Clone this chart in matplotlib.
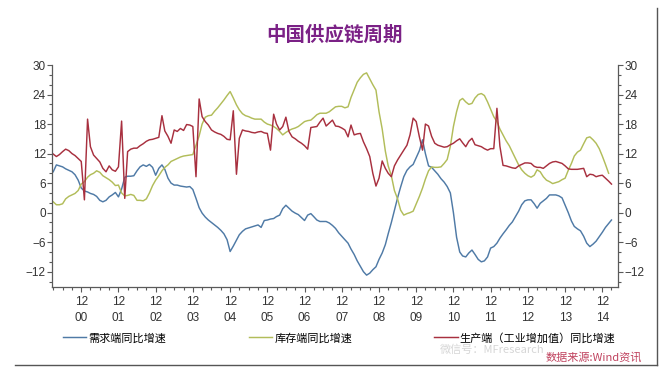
import pandas as pd
import matplotlib
matplotlib.use("Agg")
import matplotlib.pyplot as plt
import matplotlib.dates as mdates
from matplotlib.ticker import MultipleLocator
from matplotlib.lines import Line2D

plt.rcParams['font.family'] = ['Noto Sans CJK SC', 'DejaVu Sans']

# monthly, starting March 2000
months = pd.date_range("2000-03-01", periods=181, freq="MS")

# 需求端同比增速
demand = [
    8.3, 9.7, 9.5, 9.3, 8.9, 8.6, 8.3, 7.7, 6.6, 5.0,
    4.4, 4.2, 3.9, 3.7, 3.3, 2.5, 2.2, 2.5, 3.2, 3.6,
    4.1, 3.2, 4.8, 7.2, 7.4, 7.4, 7.5, 8.5, 9.3, 9.7,
    9.4, 9.8, 9.2, 7.6, 9.0, 9.7, 8.8, 7.0, 6.0, 5.6,
    5.6, 5.4, 5.3, 5.2, 5.3, 4.7, 2.9, 1.0, -0.1, -0.9,
    -1.5, -2.0, -2.5, -3.0, -3.6, -4.3, -5.5, -7.9, -6.8, -5.6,
    -4.5, -3.8, -3.3, -3.1, -2.9, -2.7, -2.5, -3.0, -1.6, -1.5,
    -1.3, -1.2, -0.8, -0.5, 0.8, 1.5, 0.9, 0.3, -0.1, -0.4,
    -1.0, -1.6, -0.5, -0.2, -0.8, -1.5, -1.8, -1.8, -1.8, -2.1,
    -2.6, -3.2, -4.1, -4.8, -5.5, -6.2, -7.4, -8.5, -9.8, -10.9,
    -12.0, -12.7, -12.3, -11.6, -11.0, -9.5, -8.2, -6.5, -4.3, -2.0,
    0.5, 3.0, 5.2, 7.3, 8.6, 9.3, 9.8, 11.2, 12.6, 14.8,
    12.0, 9.5, 9.2, 8.5, 7.8, 6.9, 6.2, 5.3, 4.0, 0.0,
    -5.0, -8.0, -8.8, -9.0, -8.2, -7.6, -8.5, -9.5, -10.0, -9.8,
    -9.0, -7.2, -6.9, -6.2, -5.2, -4.3, -3.5, -2.6, -1.9, -0.8,
    0.3, 1.6, 2.4, 2.6, 2.6, 1.8, 0.9, 1.9, 2.4, 2.9,
    3.6, 3.6, 3.6, 3.4, 3.0, 1.5, 0.0, -1.7, -2.8, -3.3,
    -3.7, -4.8, -6.2, -6.9, -6.4, -5.8, -4.9, -4.0, -3.0, -2.2,
    -1.5,
]

# 库存端同比增速
inventory = [
    2.2, 1.6, 1.6, 1.8, 2.8, 3.3, 3.6, 3.9, 4.5, 5.8,
    6.3, 7.2, 7.7, 8.0, 8.5, 8.2, 7.5, 7.1, 6.7, 6.2,
    5.5, 5.6, 4.0, 3.4, 3.5, 3.7, 3.5, 2.5, 2.5, 2.4,
    2.8, 4.0, 5.5, 6.6, 7.5, 8.5, 9.2, 9.7, 10.4, 10.7,
    11.0, 11.3, 11.5, 11.6, 11.7, 11.8, 13.7, 15.6, 18.0, 19.4,
    19.7, 19.8, 20.6, 21.3, 22.1, 22.9, 23.8, 24.6, 23.3, 21.9,
    20.9, 20.1, 19.7, 19.5, 19.2, 19.0, 19.0, 19.0, 18.4, 18.0,
    17.8, 17.5, 17.1, 16.5, 15.8, 16.3, 16.7, 17.0, 17.2, 17.5,
    18.0, 18.5, 18.7, 18.8, 19.3, 19.9, 20.2, 20.2, 20.2, 20.5,
    21.0, 21.5, 21.6, 21.6, 21.3, 21.5, 23.4, 25.0, 26.5, 27.4,
    28.1, 28.4, 27.2, 26.0, 24.9, 20.5, 17.0, 12.5, 9.5, 7.5,
    4.5, 2.8, 0.5, -0.5, -0.2, 0.0, 0.3, 1.8, 3.3, 5.0,
    6.8, 8.5, 9.3, 9.2, 9.2, 9.3, 10.0, 10.8, 13.5, 17.5,
    20.5, 22.8, 23.2, 22.5, 22.0, 22.2, 23.3, 24.0, 24.2, 23.8,
    22.5, 21.0, 19.5, 18.5, 17.0, 15.8, 14.6, 13.6, 12.3, 11.0,
    9.7, 8.7, 8.0, 7.5, 7.2, 7.6, 8.7, 8.3, 7.3, 6.6,
    6.3, 5.9, 6.1, 6.3, 6.7, 7.0, 8.6, 10.0, 11.5, 12.3,
    12.7, 14.0, 15.2, 15.4, 14.8, 14.1, 13.0, 11.5, 9.8, 8.0,
]

# 生产端（工业增加值）同比增速
production = [
    11.9, 11.4, 11.8, 12.4, 12.9, 12.6, 12.0, 11.6, 11.0, 10.4,
    2.6, 19.0, 13.4, 11.7, 11.0, 10.3, 9.0, 8.3, 9.5, 8.7,
    8.4, 9.3, 18.6, 2.9, 12.4, 12.9, 13.1, 13.1, 13.6, 14.0,
    14.5, 14.8, 14.9, 15.1, 15.3, 19.7, 16.6, 15.5, 14.1, 16.8,
    16.5, 17.1, 16.7, 17.9, 17.8, 17.5, 7.3, 23.1, 19.5, 18.5,
    17.8, 16.8, 16.4, 16.1, 15.9, 15.5, 14.9, 14.8, 20.7, 7.8,
    15.1, 16.8, 16.6, 16.5, 16.3, 16.2, 16.4, 16.5, 16.2, 16.1,
    12.7, 20.0, 18.0, 16.8, 17.5, 19.4, 16.5, 15.4, 15.0, 14.5,
    14.1, 13.6, 12.9, 17.3, 17.4, 17.5, 18.4, 19.2, 17.6, 18.2,
    18.8, 17.6, 17.5, 17.2, 16.8, 15.4, 17.8, 15.8, 16.0, 16.1,
    14.4, 13.0, 11.4, 8.0, 5.4, 7.0, 10.5, 9.0, 8.0, 7.3,
    9.5, 10.7, 11.7, 12.7, 13.7, 15.8, 19.2, 18.5, 15.4, 12.7,
    18.0, 17.6, 15.5, 14.1, 13.7, 13.5, 13.3, 13.4, 13.8, 14.1,
    14.6, 15.0, 14.2, 13.4, 14.5, 15.1, 13.8, 13.6, 13.4, 13.0,
    12.7, 13.0, 13.0, 21.2, 13.5, 9.6, 9.5, 9.3, 9.1, 9.0,
    9.5, 9.8, 10.1, 10.1, 10.0, 9.4, 9.2, 9.2, 9.0, 9.5,
    10.0, 10.3, 10.4, 10.2, 10.0, 9.5, 8.9, 8.8, 8.8, 8.8,
    8.9, 9.0, 7.3, 7.8, 7.7, 7.3, 7.5, 7.6, 7.0, 6.4,
    5.8,
]

labels = ["需求端同比增速", "库存端同比增速", "生产端（工业增加值）同比增速"]
colors = ["#4f7aa6", "#b2bd5a", "#a8303f"]

fig = plt.figure(figsize=(6.69, 3.86), dpi=100)
ax = fig.add_axes([52 / 669, 1 - 286.7 / 386, (618 - 52) / 669, (286.7 - 65) / 386])

for series, lab, col in zip([demand, inventory, production], labels, colors):
    ax.plot(months[:len(series)], series, color=col, lw=1.05, label=lab)

ax.set_xlim(pd.Timestamp("2000-02-18"), pd.Timestamp("2015-05-04"))
ax.set_ylim(-15.05, 30)

ax.xaxis.set_major_locator(mdates.MonthLocator(bymonth=12))
ax.xaxis.set_major_formatter(mdates.DateFormatter("%m\n%y"))
ax.xaxis.set_minor_locator(mdates.MonthLocator(bymonth=[3, 6, 9]))
ax.yaxis.set_major_locator(MultipleLocator(6))
ax.yaxis.set_minor_locator(MultipleLocator(2))

for s in ["left", "right", "bottom"]:
    ax.spines[s].set_color("#5a5a5a")
    ax.spines[s].set_linewidth(0.9)
ax.spines["top"].set_visible(False)

ax.tick_params(axis="both", which="both", direction="out", colors="#5a5a5a",
               labelcolor="#333333", labelsize=8.5)
ax.tick_params(axis="y", which="both", left=True, right=True,
               labelleft=True, labelright=True, pad=1)
ax.tick_params(which="major", length=3.5, width=0.8)
ax.tick_params(which="minor", length=2, width=0.8)
ax.tick_params(axis="x", pad=3)
for t in ax.get_xticklabels() + ax.get_yticklabels() + ax.yaxis.get_ticklabels(which="major"):
    t.set_family(["Liberation Sans", "DejaVu Sans"])
for t in ax.get_xticklabels():
    t.set_linespacing(1.5)

fig.text(0.5, 1 - 35 / 386, "中国供应链周期", ha="center", va="center",
         fontsize=14, fontweight="bold", color="#7b2186")

# faint watermark, squeezed between the legend and the source line
fig.text(440 / 669, 1 - 350 / 386, "微信号：MFresearch", ha="left", va="center",
         fontsize=8, color="#d6d6d6", zorder=0)

fig.legend(loc="center left", bbox_to_anchor=(63 / 669, 1 - 338 / 386), ncol=3,
           frameon=False, fontsize=8, handlelength=2.1, handletextpad=0.2,
           columnspacing=7.4, borderaxespad=0, borderpad=0)

fig.text(642 / 669, 1 - 357 / 386, "数据来源:Wind资讯", ha="right", va="center",
         fontsize=8, color="#c0425e", style="italic")

# frame lines at right and bottom
fig.add_artist(Line2D([657 / 669, 657 / 669], [1 - 8 / 386, 1 - 365 / 386],
                      color="#555555", lw=1))
fig.add_artist(Line2D([15 / 669, 657 / 669], [1 - 365 / 386, 1 - 365 / 386],
                      color="#555555", lw=1))

fig.savefig("out.png", dpi=100)
